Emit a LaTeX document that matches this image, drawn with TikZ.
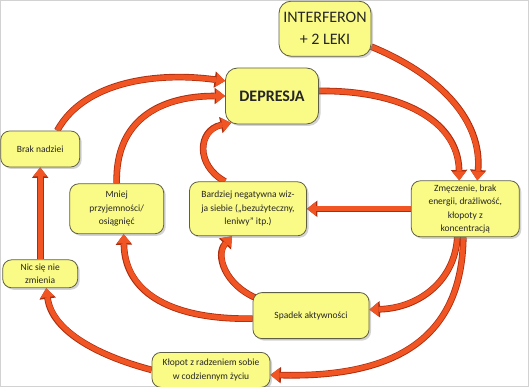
\documentclass[tikz,border=0pt]{standalone}
\usepackage{fontspec}
\setmainfont{Carlito}
\usetikzlibrary{arrows.meta, positioning, shadows, backgrounds}

\definecolor{boxfill}{RGB}{250,250,135}
\definecolor{boxline}{RGB}{95,95,70}
\definecolor{flowfill}{RGB}{240,85,35}
\definecolor{flowedge}{RGB}{170,45,15}

\begin{document}
\begin{tikzpicture}[
    x=1pt, y=-1pt,
    box/.style={rectangle,rounded corners=9pt,draw=boxline,line width=0.8pt,fill=boxfill,align=center,inner sep=2pt,
        font=\fontsize{9.5}{13.5}\selectfont,text=black!85,
        drop shadow={shadow xshift=2pt,shadow yshift=-2pt,opacity=0.35}},
    bigbox/.style={box,rounded corners=12pt,font=\fontsize{16}{22}\selectfont},
    flow/.style={line width=5pt,draw=flowfill,-{Triangle[length=9pt,width=14pt,line width=0pt]},
        preaction={draw=flowedge,line width=6.6pt,-{Triangle[length=10.5pt,width=16.5pt,line width=0pt]}}}
]
\useasboundingbox (0,0) rectangle (529,387);
\draw[gray!35,line width=1pt] (0.5,0.5) rectangle (528.5,386.5);

\node[bigbox,font=\fontsize{16}{22}\selectfont\bfseries,minimum width=93pt,minimum height=56pt] (dep) at (272,96) {DEPRESJA};
\node[bigbox,minimum width=92pt,minimum height=55pt,above=11pt of dep,xshift=53pt] (interf) {INTERFERON\\+ 2 LEKI};
\node[box,minimum width=108pt,minimum height=56pt,below right=56pt and 92pt of dep] (zmecz) {Zmęczenie, brak\\energii, drażliwość,\\kłopoty z\\koncentracją};
\node[box,minimum width=117pt,minimum height=54pt,below=57pt of dep,xshift=-24pt] (bardz) {Bardziej negatywna wiz-\\ja siebie („bezużyteczny,\\leniwy” itp.)};
\node[box,minimum width=94pt,minimum height=50pt,left=25pt of bardz] (mniej) {Mniej\\przyjemności/\\osiągnięć};
\node[box,minimum width=79pt,minimum height=36pt,left=145pt of dep,yshift=-53pt] (brak) {Brak nadziei};
\node[box,minimum width=75pt,minimum height=28pt,below=92pt of brak] (nic) {Nic się nie\\zmienia};
\node[box,minimum width=116pt,minimum height=46pt,below=56pt of bardz,xshift=63pt] (spadek) {Spadek aktywności};
\node[box,minimum width=118pt,minimum height=35pt,below=13pt of spadek,xshift=-100pt] (klopot) {Kłopot z radzeniem sobie\\w codziennym życiu};

\begin{scope}[on background layer]
\draw[flow] ([yshift=-18pt]interf.east) .. controls (440,75) and (482,120) .. ([xshift=12pt]zmecz.north);
\draw[flow] ([yshift=5pt]dep.east) .. controls (400,90) and (458,120) .. ([xshift=-6pt]zmecz.north);
\draw[flow] ([xshift=17pt]brak.north) .. controls (85,80) and (160,72) .. ([yshift=15pt]dep.west);
\draw[flow] (mniej.north) .. controls (115,120) and (160,96) .. (dep.west);
\draw[flow] ([xshift=-23pt]bardz.north) .. controls (195,165) and (198,130) .. ([xshift=6pt,yshift=1.5pt]dep.south west);
\draw[flow] (zmecz.west) -- (bardz.east);
\draw[flow] ([xshift=-8pt]zmecz.south) .. controls (455,280) and (420,308) .. ([yshift=6pt]spadek.east);
\draw[flow] ([xshift=-2pt]zmecz.south) .. controls (462,335) and (400,378) .. ([yshift=-5pt]klopot.east);
\draw[flow] ([yshift=-3pt]spadek.west) .. controls (175,320) and (125,295) .. ([xshift=7pt]mniej.south);
\draw[flow] ([xshift=4pt,yshift=-6pt]spadek.north west) .. controls (225,285) and (215,255) .. ([xshift=-16pt]bardz.south);
\draw[flow] (klopot.west) .. controls (95,355) and (52,330) .. ([xshift=6pt]nic.south);
\draw[flow] (nic) -- (brak);
\end{scope}
\end{tikzpicture}
\end{document}
